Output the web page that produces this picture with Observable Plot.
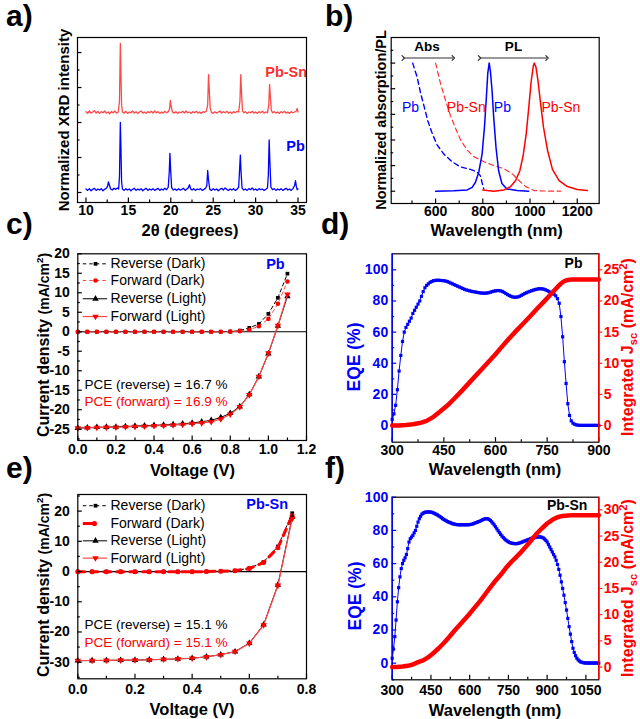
<!DOCTYPE html>
<html><head><meta charset="utf-8">
<script src="https://cdn.jsdelivr.net/npm/d3@7"></script>
<script src="https://cdn.jsdelivr.net/npm/@observablehq/plot@0.6"></script>
<style>
body{margin:0;background:#fff;}
#fig{position:relative;width:640px;height:719px;overflow:hidden;background:#fff;font-family:"Liberation Sans",Arial,Helvetica,sans-serif;}
#fig svg{position:absolute;overflow:visible;}
.lbl{position:absolute;white-space:nowrap;font-weight:bold;line-height:1;}
.lbl sub,.lbl sup{font-size:70%;line-height:0;}
</style></head><body><div id="fig"></div>
<script>
// ---------- DATA ----------
// (a) XRD patterns [2theta, normalized intensity + offset]
const xrdPb = [[10.0,.10],[10.2,.06],[10.4,.11],[10.6,.05],[10.8,.09],[11.0,.12],[11.2,.06],[11.4,.10],[11.6,.07],[11.8,.11],[12.0,.05],[12.2,.09],[12.4,.12],[12.55,.18],[12.65,.30],[12.75,.22],[12.9,.10],[13.1,.07],[13.3,.12],[13.5,.09],[13.7,.13],[13.85,.10],[13.95,.45],[14.05,2.0],[14.12,1.3],[14.2,.30],[14.3,.10],[14.5,.06],[14.7,.11],[14.9,.07],[15.1,.10],[15.3,.05],[15.5,.09],[15.7,.12],[15.9,.06],[16.1,.10],[16.3,.07],[16.5,.11],[16.7,.05],[16.9,.09],[17.1,.12],[17.3,.06],[17.5,.10],[17.7,.07],[17.9,.11],[18.1,.06],[18.3,.09],[18.5,.12],[18.7,.06],[18.9,.10],[19.1,.07],[19.3,.12],[19.5,.08],[19.7,.15],[19.82,.6],[19.9,1.12],[19.97,.7],[20.1,.14],[20.3,.07],[20.5,.10],[20.7,.06],[20.9,.11],[21.1,.07],[21.3,.09],[21.5,.12],[21.7,.06],[21.9,.10],[22.05,.13],[22.2,.22],[22.35,.10],[22.5,.07],[22.7,.11],[22.9,.06],[23.1,.10],[23.3,.08],[23.5,.11],[23.7,.06],[23.9,.09],[24.1,.12],[24.25,.2],[24.35,.63],[24.45,.35],[24.6,.09],[24.8,.06],[25.0,.11],[25.2,.07],[25.4,.10],[25.6,.05],[25.8,.09],[26.0,.12],[26.2,.07],[26.4,.13],[26.6,.09],[26.8,.06],[27.0,.10],[27.2,.07],[27.4,.11],[27.6,.06],[27.8,.09],[28.0,.15],[28.1,.6],[28.2,1.07],[28.28,.6],[28.4,.13],[28.6,.07],[28.8,.10],[29.0,.06],[29.2,.11],[29.4,.08],[29.6,.13],[29.8,.07],[30.0,.10],[30.2,.06],[30.4,.11],[30.6,.08],[30.8,.10],[31.0,.06],[31.2,.09],[31.4,.13],[31.5,.5],[31.6,1.5],[31.68,.9],[31.8,.15],[32.0,.08],[32.2,.11],[32.4,.06],[32.6,.10],[32.8,.07],[33.0,.11],[33.2,.06],[33.4,.09],[33.6,.12],[33.8,.07],[34.0,.10],[34.2,.06],[34.4,.11],[34.6,.2],[34.7,.34],[34.8,.18],[34.9,.08],[35.0,.10]];
const xrdPbSn = [[10.0,2.31],[10.2,2.26],[10.4,2.33],[10.6,2.27],[10.8,2.30],[11.0,2.34],[11.2,2.27],[11.4,2.32],[11.6,2.26],[11.8,2.31],[12.0,2.28],[12.2,2.33],[12.4,2.27],[12.6,2.30],[12.8,2.25],[13.0,2.31],[13.2,2.28],[13.4,2.33],[13.6,2.27],[13.8,2.30],[13.95,2.6],[14.05,4.26],[14.12,3.4],[14.2,2.5],[14.3,2.30],[14.5,2.27],[14.7,2.32],[14.9,2.26],[15.1,2.30],[15.3,2.28],[15.5,2.33],[15.7,2.27],[15.9,2.31],[16.1,2.26],[16.3,2.30],[16.5,2.33],[16.7,2.27],[16.9,2.30],[17.1,2.26],[17.3,2.31],[17.5,2.28],[17.7,2.32],[17.9,2.27],[18.1,2.33],[18.3,2.28],[18.5,2.31],[18.7,2.26],[18.9,2.30],[19.1,2.27],[19.3,2.32],[19.5,2.28],[19.7,2.31],[19.85,2.38],[19.95,2.63],[20.05,2.45],[20.2,2.30],[20.4,2.27],[20.6,2.31],[20.8,2.26],[21.0,2.30],[21.2,2.28],[21.4,2.32],[21.6,2.27],[21.8,2.33],[22.0,2.28],[22.2,2.30],[22.4,2.26],[22.6,2.31],[22.8,2.28],[23.0,2.32],[23.2,2.27],[23.4,2.30],[23.6,2.26],[23.8,2.31],[24.0,2.29],[24.2,2.33],[24.35,2.5],[24.45,3.37],[24.52,3.0],[24.65,2.4],[24.8,2.29],[25.0,2.26],[25.2,2.31],[25.4,2.27],[25.6,2.30],[25.8,2.33],[26.0,2.27],[26.2,2.31],[26.4,2.28],[26.6,2.32],[26.8,2.27],[27.0,2.30],[27.2,2.26],[27.4,2.31],[27.6,2.28],[27.8,2.32],[28.0,2.30],[28.15,2.6],[28.25,3.37],[28.33,2.9],[28.45,2.33],[28.6,2.28],[28.8,2.31],[29.0,2.26],[29.2,2.30],[29.4,2.28],[29.6,2.32],[29.8,2.27],[30.0,2.30],[30.2,2.26],[30.4,2.31],[30.6,2.28],[30.8,2.32],[31.0,2.27],[31.2,2.30],[31.4,2.28],[31.55,2.5],[31.65,3.09],[31.72,2.8],[31.85,2.35],[32.0,2.28],[32.2,2.31],[32.4,2.27],[32.6,2.30],[32.8,2.26],[33.0,2.31],[33.2,2.28],[33.4,2.32],[33.6,2.27],[33.8,2.30],[34.0,2.26],[34.2,2.31],[34.4,2.28],[34.6,2.30],[34.8,2.33],[34.9,2.40],[35.0,2.30]];
const xrdTicks = [10,15,20,25,30,35];

// (b) absorption (dashed) and PL (solid) [nm, normalized]
const absPb = [[503,1.0],[522,0.89],[536,0.77],[553,0.65],[567,0.55],[586,0.45],[607,0.36],[635,0.29],[670,0.23],[705,0.19],[748,0.17],[776,0.15],[790,0.12],[800,0.044],[804,0.018]];
const absPbSn = [[600,1.0],[621,0.84],[642,0.71],[663,0.59],[685,0.49],[706,0.40],[734,0.32],[762,0.27],[805,0.23],[847,0.20],[890,0.175],[925,0.135],[953,0.083],[982,0.036],[1017,0.005],[1087,0],[1130,0]];
const plPb = [[600,0],[677,0.003],[734,0.01],[755,0.03],[769,0.07],[783,0.15],[797,0.29],[807,0.5],[815,0.73],[821,0.92],[827,1.0],[832,0.94],[839,0.79],[846,0.58],[856,0.34],[867,0.16],[881,0.06],[902,0.018],[945,0.005],[994,0]];
const plPbSn = [[800,0.01],[846,0],[890,0.01],[918,0.036],[939,0.083],[957,0.16],[971,0.28],[984,0.45],[995,0.66],[1005,0.86],[1014,0.98],[1018,1.0],[1025,0.97],[1034,0.86],[1045,0.68],[1057,0.5],[1074,0.32],[1095,0.17],[1123,0.083],[1158,0.036],[1200,0.013],[1243,0.005]];
const bTicks = [600,800,1000,1200];
const bArrows = [{x1:463,x2:675,y:1.04,label:"Abs"},{x1:786,x2:1072,y:1.04,label:"PL"}];
const bCurveLabels = [{x:494,y:0.65,t:"Pb",c:"blue"},{x:730,y:0.65,t:"Pb-Sn",c:"red"},{x:883,y:0.65,t:"Pb",c:"blue"},{x:1131,y:0.65,t:"Pb-Sn",c:"red"}];

// (c) J-V Pb
const vC = [0,0.05,0.1,0.15,0.2,0.25,0.3,0.35,0.4,0.45,0.5,0.55,0.6,0.65,0.7,0.75,0.8,0.85,0.9,0.95,1.0,1.05,1.1];
const revDarkC = [0,0,0,0,0,0,0,0,0,0,0,0,0,0,0,0,0.05,0.3,1.0,2.0,4.6,8.7,14.9];
const fwdDarkC = [0,0,0,0,0,0,0,0,0,0,0,0,0,0,0,0,0.03,0.15,0.5,1.4,3.3,7.2,12.9];
const revLightC = [-24.7,-24.6,-24.5,-24.45,-24.4,-24.3,-24.2,-24.1,-24.0,-23.9,-23.8,-23.6,-23.4,-23.1,-22.7,-22.0,-20.9,-19.2,-16.1,-11.5,-5.6,1.5,9.1];
const fwdLightC = [-24.7,-24.65,-24.6,-24.55,-24.5,-24.4,-24.35,-24.25,-24.15,-24.05,-23.95,-23.8,-23.6,-23.4,-23.1,-22.4,-21.2,-19.3,-16.2,-11.5,-5.5,1.6,9.6];
const pceC = ["PCE (reverse) = 16.7 %","PCE (forward) = 16.9 %"];

// (e) J-V Pb-Sn
const vE = [0,0.05,0.1,0.15,0.2,0.25,0.3,0.35,0.4,0.45,0.5,0.55,0.6,0.65,0.7,0.75];
const revDarkE = [0,0,0,0,0,0,0,0,0,0,0.1,0.3,1.1,3.2,8.3,19.3];
const fwdDarkE = [-0.1,-0.1,-0.1,-0.1,-0.1,-0.1,-0.1,-0.1,-0.1,0,0.1,0.3,1.0,3.0,7.9,18.5];
const revLightE = [-29.5,-29.45,-29.4,-29.35,-29.3,-29.2,-29.05,-28.9,-28.7,-28.2,-27.5,-26.5,-23.7,-17.6,-4.4,18.0];
const fwdLightE = [-29.5,-29.45,-29.4,-29.35,-29.3,-29.2,-29.05,-28.9,-28.7,-28.25,-27.55,-26.5,-23.8,-17.7,-4.6,17.5];
const pceE = ["PCE (reverse) = 15.1 %","PCE (forward) = 15.1 %"];
const legendLabels = ["Reverse (Dark)","Forward (Dark)","Reverse (Light)","Forward (Light)"];

// (d) EQE / Jsc Pb
const wlD = d3.range(300, 905, 5);
const eqeD = [4,7.5,13,23,35,45,54,60,63,65, 67,69,72,74,76,78,80,83,86,88.5, 90,91,92,92.5,93,93.2,93.3,93.3,93.2,93.1, 93,92.8,92.5,92,91.5,91,90.5,90,89.5,89, 88.5,88,87.5,87.1,86.8,86.5,86.2,86,85.8,85.6, 85.4,85.2,85.1,85,85,85.1,85.3,85.6,86,86.3, 86.5,86.7,86.7,86.5,86.1,85.5,84.8,84.1,83.5,83, 82.6,82.4,82.4,82.6,83,83.6,84.2,84.8,85.3,85.8, 86.2,86.6,87,87.3,87.6,87.8,87.9,87.8,87.6,87.2, 86.7,86.1,85.5,85,84.3,83.3,81.5,78.5,70,57, 41,27,14,6.5,3,1.5,0.8,0.4,0.2,0.1, 0.1,0.1,0.1,0.1,0.1,0.1,0.1,0.1,0.1,0.1, 0.1];
const jscDwl = [300,320,340,360,380,400,420,440,460,480,500,520,540,560,580,600,620,640,660,680,700,720,740,760,780,790,800,810,820,900];
const jscD = [0,0.02,0.08,0.2,0.4,0.75,1.4,2.3,3.2,4.3,5.45,6.65,7.85,9.05,10.25,11.45,12.75,14.0,15.2,16.35,17.5,18.7,19.85,21.05,22.25,22.8,23.2,23.38,23.45,23.45];

// (f) EQE / Jsc Pb-Sn
const wlF = d3.range(300, 1105, 5);
const eqeF = [3,8.5,16,26,37,45.5,52,57,60,62, 63.5,65.5,69,73,75,76,77,78.5,80,82.5, 85,87,88.5,89.8,90.4,90.8,91,91.1,91.1,91.1, 91,90.8,90.5,90.1,89.7,89.3,88.8,88.3,87.7,87.1, 86.6,86.1,85.7,85.3,84.9,84.6,84.3,84,83.8,83.6, 83.5,83.4,83.4,83.4,83.4,83.4,83.4,83.4,83.4,83.4, 83.5,83.6,83.8,84.1,84.4,84.7,85,85.3,85.6,86, 86.4,86.7,87,87.1,87,86.6,86,85.2,84.3,83.3, 82.2,81,79.8,78.7,77.6,76.6,75.7,74.9,74.2,73.6, 73.1,72.7,72.4,72.2,72.1,72,72,72.1,72.3,72.5, 72.8,73.1,73.4,73.7,74,74.3,74.6,74.9,75.2,75.5, 75.7,75.9,76,76.1,76.1,76,75.8,75.4,74.8,74, 73,71.5,70,68.5,67,65.5,64,62,59.5,56.5, 53,49,45,41,36.5,32,27,22,17.5,13, 9,6.5,4.5,3,2,1.3,0.8,0.5,0.3,0.2, 0.1,0.1,0.1,0.1,0.1,0.1,0.1,0.1,0.1,0.1, 0.1];
const jscFwl = [300,320,340,360,380,400,420,440,460,480,500,520,540,560,580,600,620,640,660,680,700,720,740,760,780,800,820,840,860,880,900,920,940,960,980,1000,1100];
const jscF = [0,0.03,0.1,0.25,0.5,0.95,1.3,1.9,2.7,3.6,4.6,5.7,6.9,8.0,9.1,10.2,11.4,12.6,13.9,15.2,16.5,17.6,18.9,20.0,21.0,22.0,23.1,24.3,25.5,26.5,27.4,28.1,28.6,28.85,28.95,29.0,29.0];

// ---------- HELPERS ----------
const FONT = '"Liberation Sans", Arial, Helvetica, sans-serif';
const BLUE = "#0000ff", RED = "#ff0000", LRED = "#ff4848";
const fig = document.getElementById("fig");
const triDown = {draw(ctx, size){ const y = -Math.sqrt(size / (Math.sqrt(3) * 3)); ctx.moveTo(0, -y * 2); ctx.lineTo(-Math.sqrt(3) * y, y); ctx.lineTo(Math.sqrt(3) * y, y); ctx.closePath(); }};

function place(svg, left, top) { svg.style.left = left + "px"; svg.style.top = top + "px"; fig.append(svg); }
function plotAt(left, top, w, h, m, opts, extraStyle = {}) {
  const svg = Plot.plot({width: w, height: h, marginLeft: m[0], marginRight: m[1], marginTop: m[2], marginBottom: m[3],
    style: Object.assign({fontFamily: FONT, fontSize: "14px", fontWeight: "bold", background: "transparent", color: "black", overflow: "visible"}, extraStyle), ...opts});
  place(svg, left, top);
}
function inTicks(w, h, m, {xMaj = [], xMin = [], yMaj = [], yMin = [], yColor = "black"}) {
  const fw = w - m[0] - m[1], fh = h - m[2] - m[3];
  return [
    Plot.tickX(xMaj, {x: d => d, insetTop: fh - 4.5, strokeWidth: 1.2}),
    Plot.tickX(xMin, {x: d => d, insetTop: fh - 2.5, strokeWidth: 1.2}),
    Plot.tickY(yMaj, {y: d => d, insetRight: fw - 4.5, stroke: yColor, strokeWidth: 1.2}),
    Plot.tickY(yMin, {y: d => d, insetRight: fw - 2.5, stroke: yColor, strokeWidth: 1.2})
  ];
}
function label(html, x, y, {size = 16.5, color = "black", rot = false, weight = "bold"} = {}) {
  const d = document.createElement("div");
  d.className = "lbl"; d.innerHTML = html;
  Object.assign(d.style, {left: x + "px", top: y + "px", fontSize: size + "px", color, fontWeight: weight,
    transform: "translate(-50%,-50%)" + (rot ? " rotate(-90deg)" : "")});
  fig.append(d);
}
function letter(t, x, y) {
  const d = document.createElement("div");
  d.className = "lbl"; d.textContent = t;
  Object.assign(d.style, {left: x + "px", top: y + "px", fontSize: "30px"});
  fig.append(d);
}
function series(xs, ys, {stroke, sw = 1, dash, symbol, r = 2.3, fill}) {
  const data = xs.map((x, i) => [x, ys[i]]);
  return [
    Plot.line(data, {x: d => d[0], y: d => d[1], stroke, strokeWidth: sw, strokeDasharray: dash}),
    Plot.dot(data, {x: d => d[0], y: d => d[1], symbol, r, fill: fill || stroke, stroke: "none"})
  ];
}
function legend(rows, ys, x1, x2, xm, xt) {
  const out = [];
  rows.forEach((r, i) => {
    out.push(Plot.link([r], {x1: () => x1, x2: () => r.x2 ?? x2, y1: () => ys[i], y2: () => ys[i], stroke: r.stroke, strokeWidth: r.sw, strokeDasharray: r.dash}));
    out.push(Plot.dot([r], {x: () => r.xm ?? xm, y: () => ys[i], symbol: r.symbol, r: r.r ?? 2.3, fill: r.fill || r.stroke, stroke: "none"}));
    out.push(Plot.text([r.label], {x: () => xt, y: () => ys[i], text: d => d, textAnchor: "start", fontWeight: "normal", fontSize: 14, fill: "black"}));
  });
  return out;
}

// ---------- (a) ----------
{
  const w = 320, h = 240, m = [77, 14, 37, 38];
  plotAt(0, 0, w, h, m, {
    x: {domain: [9, 36]}, y: {domain: [-0.286, 4.43], axis: null},
    marks: [
      Plot.line(xrdPbSn, {x: d => d[0], y: d => d[1], stroke: LRED, strokeWidth: 1.3}),
      Plot.line(xrdPb, {x: d => d[0], y: d => d[1], stroke: BLUE, strokeWidth: 1.3}),
      ...inTicks(w, h, m, {xMaj: xrdTicks, xMin: [12.5, 17.5, 22.5, 27.5, 32.5], yMaj: [0, 1, 2, 3, 4], yMin: [0.5, 1.5, 2.5, 3.5]}),
      Plot.axisX(xrdTicks, {tickSize: 0, tickPadding: 3, label: null, tickFormat: d => String(d)}),
      Plot.text(["Pb-Sn"], {x: 33.6, y: 3.44, text: d => d, fill: "#ff3030", fontSize: 14.5}),
      Plot.text(["Pb"], {x: 34.7, y: 1.32, text: d => d, fill: BLUE, fontSize: 14.5}),
      Plot.frame({stroke: "black", strokeWidth: 1.2})
    ]
  });
}
// ---------- (b) ----------
{
  const w = 320, h = 240, m = [70.7, 41.3, 37, 37];
  plotAt(320, 0, w, h, m, {
    x: {domain: [412, 1293]}, y: {domain: [-0.096, 1.2], axis: null},
    marks: [
      Plot.line(absPb, {x: d => d[0], y: d => d[1], stroke: BLUE, strokeWidth: 1.4, strokeDasharray: "5,3.5"}),
      Plot.line(absPbSn, {x: d => d[0], y: d => d[1], stroke: "#ff3333", strokeWidth: 1.2, strokeDasharray: "5,3.5"}),
      Plot.line(plPb, {x: d => d[0], y: d => d[1], stroke: BLUE, strokeWidth: 1.5}),
      Plot.line(plPbSn, {x: d => d[0], y: d => d[1], stroke: RED, strokeWidth: 1.5}),
      Plot.link(bArrows, {x1: "x1", x2: "x2", y1: "y", y2: "y", stroke: "#333", strokeWidth: 1.2, markerStart: "arrow", markerEnd: "arrow"}),
      Plot.text(bArrows, {x: d => (d.x1 + d.x2) / 2 - (d.label === "Abs" ? 5 : -1), y: 1.13, text: "label", fontSize: 13.5}),
      Plot.text(bCurveLabels, {x: "x", y: "y", text: "t", fill: d => d.c === "blue" ? BLUE : RED, fontWeight: "normal", fontSize: 14}),
      ...inTicks(w, h, m, {xMaj: bTicks, xMin: [500, 700, 900, 1100], yMaj: [0, 0.2, 0.4, 0.6, 0.8, 1.0], yMin: [0.1, 0.3, 0.5, 0.7, 0.9, 1.1]}),
      Plot.axisX(bTicks, {tickSize: 0, tickPadding: 3, label: null, tickFormat: d => String(d)}),
      Plot.frame({stroke: "black", strokeWidth: 1.2})
    ]
  });
}
// ---------- (c) ----------
{
  const w = 320, h = 240, m = [77.3, 14, 13.3, 40];
  const yT = [-25, -20, -15, -10, -5, 0, 5, 10, 15, 20], xT = [0, 0.2, 0.4, 0.6, 0.8, 1.0, 1.2];
  const rows = [
    {label: legendLabels[0], stroke: "black", sw: 1, dash: "3.5,3", symbol: "square", r: 2.1},
    {label: legendLabels[1], stroke: LRED, sw: 1, dash: "3.5,3", symbol: "circle", r: 2.3, fill: RED},
    {label: legendLabels[2], stroke: "black", sw: 1, symbol: "triangle", r: 2.4},
    {label: legendLabels[3], stroke: LRED, sw: 1.2, symbol: triDown, r: 2.4, fill: RED}
  ];
  plotAt(0, 240, w, h, m, {
    x: {domain: [0, 1.2]}, y: {domain: [-27.9, 20]},
    marks: [
      Plot.ruleY([0], {stroke: "black", strokeWidth: 1.2}),
      ...series(vC, revDarkC, {stroke: "black", dash: "3.5,3", symbol: "square", r: 2.1}),
      ...series(vC, fwdDarkC, {stroke: LRED, dash: "3.5,3", symbol: "circle", r: 2.3, fill: RED}),
      ...series(vC, revLightC, {stroke: "black", symbol: "triangle", r: 2.4}),
      ...series(vC, fwdLightC, {stroke: LRED, sw: 1.2, symbol: triDown, r: 2.4, fill: RED}),
      ...legend(rows, [17.43, 13.15, 8.46, 3.9], 0.026, 0.154, 0.093, 0.172),
      Plot.text(["Pb"], {x: 1.037, y: 17.25, text: d => d, fill: BLUE, fontSize: 14.5}),
      Plot.text([pceC[0]], {x: 0.035, y: -13.53, text: d => d, textAnchor: "start", fontWeight: "normal", fontSize: 13.5, fill: "black"}),
      Plot.text([pceC[1]], {x: 0.035, y: -17.9, text: d => d, textAnchor: "start", fontWeight: "normal", fontSize: 13.5, fill: RED}),
      ...inTicks(w, h, m, {xMaj: xT, xMin: [0.1, 0.3, 0.5, 0.7, 0.9, 1.1], yMaj: yT, yMin: [-27.5, -22.5, -17.5, -12.5, -7.5, -2.5, 2.5, 7.5, 12.5, 17.5]}),
      Plot.axisX(xT, {tickSize: 0, tickPadding: 4, label: null, tickFormat: d3.format(".1f")}),
      Plot.axisY(yT, {tickSize: 0, tickPadding: 8, label: null, tickFormat: d => String(d)}),
      Plot.frame({stroke: "black", strokeWidth: 1.2})
    ]
  });
}
// ---------- (e) ----------
{
  const w = 320, h = 239, m = [77.3, 14, 14, 40.7];
  const yT = [-30, -20, -10, 0, 10, 20], xT = [0, 0.2, 0.4, 0.6, 0.8];
  const rows = [
    {label: legendLabels[0], stroke: "black", sw: 1, dash: "3.5,3", symbol: "square", r: 2.1},
    {label: legendLabels[1], stroke: RED, sw: 3, symbol: "circle", r: 2.6, x2: 0.06, xm: 0.058},
    {label: legendLabels[2], stroke: "black", sw: 1, symbol: "triangle", r: 2.4},
    {label: legendLabels[3], stroke: LRED, sw: 1.2, symbol: triDown, r: 2.4, fill: RED}
  ];
  plotAt(0, 480, w, h, m, {
    x: {domain: [0, 0.8]}, y: {domain: [-35.5, 25.5]},
    marks: [
      Plot.ruleY([0], {stroke: "black", strokeWidth: 1.2}),
      ...series(vE, revDarkE, {stroke: "black", dash: "3.5,3", symbol: "square", r: 2.1}),
      ...series(vE, fwdDarkE, {stroke: RED, sw: 3, dash: "7,6", symbol: "circle", r: 2.5}),
      ...series(vE, revLightE, {stroke: "black", symbol: "triangle", r: 2.4}),
      ...series(vE, fwdLightE, {stroke: LRED, sw: 1.2, symbol: triDown, r: 2.4, fill: RED}),
      ...legend(rows, [21.79, 15.9, 10.17, 4.44], 0.0175, 0.1028, 0.0619, 0.1144),
      Plot.text(["Pb-Sn"], {x: 0.6625, y: 22.2, text: d => d, fill: BLUE, fontSize: 14.5}),
      Plot.text([pceE[0]], {x: 0.0234, y: -17.5, text: d => d, textAnchor: "start", fontWeight: "normal", fontSize: 13.5, fill: "black"}),
      Plot.text([pceE[1]], {x: 0.0234, y: -23.4, text: d => d, textAnchor: "start", fontWeight: "normal", fontSize: 13.5, fill: RED}),
      ...inTicks(w, h, m, {xMaj: xT, xMin: [0.1, 0.3, 0.5, 0.7], yMaj: yT, yMin: [-35, -25, -15, -5, 5, 15, 25]}),
      Plot.axisX(xT, {tickSize: 0, tickPadding: 5, label: null, tickFormat: d3.format(".1f")}),
      Plot.axisY(yT, {tickSize: 0, tickPadding: 8, label: null, tickFormat: d => String(d)}),
      Plot.frame({stroke: "black", strokeWidth: 1.2})
    ]
  });
}
// ---------- (d) ----------
{
  const w = 320, h = 240, m = [71.7, 41.7, 13.3, 38.3];
  const xT = [300, 450, 600, 750, 900], yT = [0, 20, 40, 60, 80, 100];
  plotAt(320, 240, w, h, m, {
    x: {domain: [300, 900]}, y: {domain: [-10.7, 110.3]},
    marks: [
      ...series(wlD, eqeD, {stroke: BLUE, sw: 1, symbol: "square", r: 1.8}),
      Plot.text(["Pb"], {x: 826.5, y: 104, text: d => d, fill: "black", fontSize: 14}),
      ...inTicks(w, h, m, {xMaj: xT, xMin: [375, 525, 675, 825], yMaj: yT, yMin: [10, 30, 50, 70, 90], yColor: BLUE}),
      Plot.axisX(xT, {tickSize: 0, tickPadding: 3, label: null, tickFormat: d => String(d)}),
      Plot.axisY(yT, {tickSize: 0, tickPadding: 4, label: null, color: BLUE, tickFormat: d => String(d)}),
      Plot.frame({stroke: "black", strokeWidth: 1.2}),
      Plot.ruleX([300], {stroke: BLUE, strokeWidth: 1.4})
    ]
  });
  plotAt(320, 240, w, h, m, {
    x: {domain: [300, 900], axis: null}, y: {domain: [-2.675, 27.575]},
    marks: [
      Plot.line(jscD, {x: (d, i) => jscDwl[i], y: d => d, stroke: RED, strokeWidth: 4.5}),
      Plot.axisY([0, 5, 10, 15, 20, 25], {anchor: "right", tickSize: 3, tickPadding: 2, label: null, tickFormat: d => String(d)}),
      Plot.ruleX([900], {stroke: RED, strokeWidth: 1.4})
    ]
  }, {color: RED});
}
// ---------- (f) ----------
{
  const w = 320, h = 239, m = [71.7, 41.7, 16.7, 39.7];
  const xT = [300, 450, 600, 750, 900, 1050], yT = [0, 20, 40, 60, 80, 100];
  plotAt(320, 480, w, h, m, {
    x: {domain: [300, 1100]}, y: {domain: [-10, 100]},
    marks: [
      ...series(wlF, eqeF, {stroke: BLUE, sw: 1, symbol: "square", r: 1.8}),
      Plot.text(["Pb-Sn"], {x: 977.6, y: 95, text: d => d, fill: "black", fontSize: 14}),
      ...inTicks(w, h, m, {xMaj: xT, xMin: [375, 525, 675, 825, 975], yMaj: yT, yMin: [-10, 10, 30, 50, 70, 90], yColor: BLUE}),
      Plot.axisX(xT, {tickSize: 0, tickPadding: 5, label: null, tickFormat: d => String(d)}),
      Plot.axisY(yT, {tickSize: 0, tickPadding: 4, label: null, color: BLUE, tickFormat: d => String(d)}),
      Plot.frame({stroke: "black", strokeWidth: 1.2}),
      Plot.ruleX([300], {stroke: BLUE, strokeWidth: 1.4})
    ]
  });
  plotAt(320, 480, w, h, m, {
    x: {domain: [300, 1100], axis: null}, y: {domain: [-2.42, 32.42]},
    marks: [
      Plot.line(jscF, {x: (d, i) => jscFwl[i], y: d => d, stroke: RED, strokeWidth: 4.5}),
      Plot.axisY([0, 5, 10, 15, 20, 25, 30], {anchor: "right", tickSize: 3, tickPadding: 2, label: null, tickFormat: d => String(d)}),
      Plot.ruleX([1100], {stroke: RED, strokeWidth: 1.4})
    ]
  }, {color: RED});
}

// ---------- TITLES & PANEL LETTERS ----------
letter("a)", 6, 1); letter("b)", 325, 1); letter("c)", 6, 209); letter("d)", 321, 209); letter("e)", 6, 453); letter("f)", 325, 453);
label("2θ (degrees)", 190, 230);
label("Wavelength (nm)", 496.7, 230);
label("Voltage (V)", 192.5, 470);
label("Wavelength (nm)", 495, 469.3);
label("Voltage (V)", 192, 709);
label("Wavelength (nm)", 495, 710);
label("Normalized XRD intensity", 62.5, 120, {size: 15, rot: true});
label("Normalized absorption/PL", 380.5, 120, {size: 14.5, rot: true});
label('Current density <span style="font-size:14px">(mA/cm<sup>2</sup>)</span>', 44, 345, {size: 16, rot: true});
label('Current density <span style="font-size:14px">(mA/cm<sup>2</sup>)</span>', 44, 585, {size: 16, rot: true});
label("EQE (%)", 355, 356.7, {size: 17.5, color: BLUE, rot: true});
label("EQE (%)", 356, 596, {size: 17.5, color: BLUE, rot: true});
label('Integrated J<sub>sc</sub> (mA/cm<sup>2</sup>)', 628.3, 346.7, {size: 16, color: RED, rot: true});
label('Integrated J<sub>sc</sub> (mA/cm<sup>2</sup>)', 628.3, 587.5, {size: 16, color: RED, rot: true});
</script></body></html>
